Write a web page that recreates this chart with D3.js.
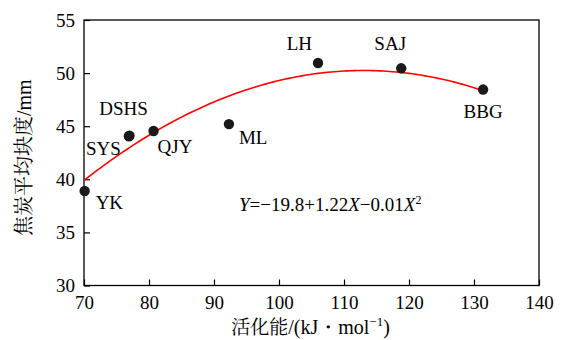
<!DOCTYPE html>
<html>
<head>
<meta charset="utf-8">
<script src="https://cdn.jsdelivr.net/npm/d3@7"></script>
<style>
  body { margin: 0; background: #fff; }
</style>
</head>
<body>
<div id="viz"></div>
<script>
// Data
const names = ["YK", "SYS", "DSHS", "QJY", "ML", "LH", "SAJ", "BBG"];
const energy = [70.1, 76.9, 77.0, 80.7, 92.3, 106.0, 118.8, 131.4];
const thickness = [38.9, 44.05, 44.1, 44.55, 45.2, 50.95, 50.45, 48.45];
const xTicks = [70, 80, 90, 100, 110, 120, 130, 140];
const yTicks = [30, 35, 40, 45, 50, 55];
// fitted curve as drawn (c0 + c1*x + c2*x^2), range of the drawn line
const fitCoef = [-21.26, 1.2656, -0.0056];
const fitRange = [70, 131.4];

const serif = "'Liberation Serif', 'Times New Roman', Times, 'DejaVu Serif', serif";
const cjk = "'Noto Serif CJK SC', 'Noto Sans CJK SC', sans-serif";

// label placement, px offsets from the point
const labelPos = {
    YK:   { dx: 11, dy: 18, anchor: "start" },
    SYS:  { dx: -8, dy: 19, anchor: "end" },
    DSHS: { dx: -6, dy: -21, anchor: "middle" },
    QJY:  { dx: 4, dy: 22, anchor: "start" },
    ML:   { dx: 10, dy: 20, anchor: "start" },
    LH:   { dx: -6, dy: -13, anchor: "end" },
    SAJ:  { dx: -11, dy: -18, anchor: "middle" },
    BBG:  { dx: 0, dy: 28, anchor: "middle" }
};

const dims = { width: 563, height: 340, margin: { top: 20, right: 24, bottom: 54.5, left: 84 } };

const svg = d3.select("#viz").append("svg")
    .attr("width", dims.width)
    .attr("height", dims.height)
    .attr("font-family", serif);

const x = d3.scaleLinear().domain([70, 140])
    .range([dims.margin.left, dims.width - dims.margin.right]);
const y = d3.scaleLinear().domain([30, 55])
    .range([dims.height - dims.margin.bottom, dims.margin.top]);

const data = names.map((n, i) => ({ name: n, x: energy[i], y: thickness[i] }));

// frame
svg.append("rect")
    .attr("x", x(70)).attr("y", y(55))
    .attr("width", x(140) - x(70)).attr("height", y(30) - y(55))
    .attr("fill", "none").attr("stroke", "#000").attr("stroke-width", 1.3);

// axes, ticks pointing inward
const xAxis = svg.append("g")
    .attr("transform", `translate(0,${y(30)})`)
    .call(d3.axisTop(x).tickValues(xTicks).tickSize(6).tickFormat(d3.format("d")));
xAxis.selectAll("text").attr("y", 10).attr("dy", "0.71em");
const yAxis = svg.append("g")
    .attr("transform", `translate(${x(70)},0)`)
    .call(d3.axisRight(y).tickValues(yTicks).tickSize(6).tickFormat(d3.format("d")));
yAxis.selectAll("text").attr("x", -9).attr("text-anchor", "end");

[xAxis, yAxis].forEach(g => {
    g.attr("font-family", serif).attr("font-size", 19);
    g.select(".domain").remove();
    g.selectAll("line").attr("stroke", "#000").attr("stroke-width", 1.2);
    g.selectAll("text").attr("fill", "#000");
});

// fitted curve
const fitX = d3.range(fitRange[0], fitRange[1] + 0.01, 0.5);
fitX.push(fitRange[1]);
const line = d3.line()
    .x(d => x(d))
    .y(d => y(fitCoef[0] + fitCoef[1] * d + fitCoef[2] * d * d));
svg.append("path")
    .datum(fitX)
    .attr("d", line)
    .attr("fill", "none")
    .attr("stroke", "#ff0000")
    .attr("stroke-width", 1.6);

// points
svg.selectAll("circle.pt")
    .data(data)
    .enter().append("circle")
    .attr("class", "pt")
    .attr("cx", d => x(d.x))
    .attr("cy", d => y(d.y))
    .attr("r", 5.2)
    .attr("fill", "#1a1a1a");

// point labels
svg.selectAll("text.lbl")
    .data(data)
    .enter().append("text")
    .attr("class", "lbl")
    .attr("x", d => x(d.x) + labelPos[d.name].dx)
    .attr("y", d => y(d.y) + labelPos[d.name].dy)
    .attr("text-anchor", d => labelPos[d.name].anchor)
    .attr("font-size", 19)
    .text(d => d.name);

// equation
const eq = svg.append("text")
    .attr("x", 239).attr("y", 211)
    .attr("font-size", 19);
eq.append("tspan").attr("font-style", "italic").text("Y");
eq.append("tspan").text("=\u221219.8+1.22");
eq.append("tspan").attr("font-style", "italic").text("X");
eq.append("tspan").text("\u22120.01");
eq.append("tspan").attr("font-style", "italic").text("X");
eq.append("tspan").attr("font-size", 12).attr("dy", -7).text("2");

// axis titles
const xt = svg.append("text")
    .attr("x", (x(70) + x(140)) / 2 - 1)
    .attr("y", 334)
    .attr("text-anchor", "middle")
    .attr("font-size", 20);
xt.append("tspan").attr("font-family", cjk).attr("font-size", 19).text("活化能");
xt.append("tspan").text("/(kJ\u30FBmol");
xt.append("tspan").attr("font-size", 13).attr("dy", -8).text("\u22121");
xt.append("tspan").attr("dy", 8).text(")");

const yt = svg.append("text")
    .attr("transform", `translate(31,${(y(30) + y(55)) / 2 + 5}) rotate(-90)`)
    .attr("text-anchor", "middle")
    .attr("font-size", 20);
yt.append("tspan").attr("font-family", cjk).attr("font-size", 20).text("焦炭平均块度");
yt.append("tspan").text("/mm");
</script>
</body>
</html>
